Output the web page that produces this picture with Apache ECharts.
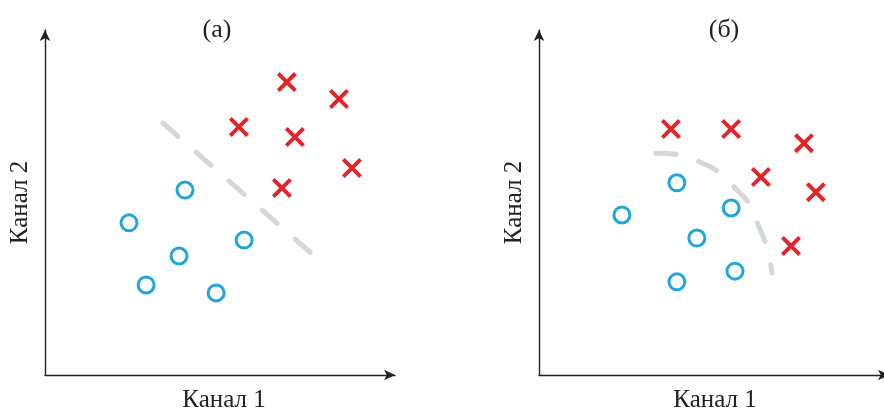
<!DOCTYPE html>
<html>
<head>
<meta charset="utf-8">
<script src="https://cdn.jsdelivr.net/npm/echarts@6/dist/echarts.min.js"></script>
<style>html,body{margin:0;padding:0;background:#fff}#c{width:884px;height:411px}</style>
</head>
<body>
<div id="c"></div>
<script>
// Panel titles and axis names
const panelTitles = ['(а)', '(б)'];
const xAxisName = 'Канал 1';
const yAxisName = 'Канал 2';

// Panel (а): class "×" and class "○", linear boundary
const crossesA = [[6.91, 8.49], [8.40, 8.00], [5.54, 7.19], [7.14, 6.90], [8.77, 6.00], [6.77, 5.42]];
const circlesA = [[4.00, 5.36], [2.40, 4.41], [5.69, 3.91], [3.83, 3.45], [2.89, 2.61], [4.89, 2.38]];
const boundaryA = [[3.37, 7.30], [7.66, 3.48]];

// Panel (б): class "×" and class "○", curved boundary
const crossesB = [[3.77, 7.13], [5.49, 7.13], [7.57, 6.72], [6.34, 5.74], [7.91, 5.30], [7.20, 3.74]];
const circlesB = [[3.94, 5.57], [2.37, 4.64], [5.49, 4.84], [4.51, 3.97], [5.60, 3.01], [3.94, 2.70]];
const boundaryB = [[3.34, 6.43], [4.03, 6.38], [4.60, 6.17], [5.17, 5.86], [5.60, 5.42], [6.03, 4.93], [6.26, 4.35], [6.49, 3.77], [6.66, 2.96]];

const RED = '#e5242a';
const BLUE = '#1fa6df';
const GRAY = '#d3d8d9';
const AXIS = '#222222';
const FONT = '"Liberation Serif", "DejaVu Serif", serif';
const CROSS = 'path://M14,0 L50,36 L86,0 L100,14 L64,50 L100,86 L86,100 L50,64 L14,100 L0,86 L36,50 L0,14 Z';

function xAx(i, pad) {
  return {
    gridIndex: i, type: 'value', min: 0, max: 10,
    name: xAxisName, nameLocation: 'middle', nameGap: 13,
    nameTextStyle: { fontFamily: FONT, fontSize: 25, color: '#222', verticalAlign: 'top', padding: [0, 0, 0, pad] },
    axisLine: { show: true, symbol: ['none', 'arrow'], symbolSize: [8, 11], lineStyle: { color: AXIS, width: 1.4 } },
    axisTick: { show: false }, axisLabel: { show: false }, splitLine: { show: false }
  };
}
function yAx(i) {
  return {
    gridIndex: i, type: 'value', min: 0, max: 10,
    name: yAxisName, nameLocation: 'middle', nameGap: 12, nameRotate: 90,
    nameTextStyle: { fontFamily: FONT, fontSize: 25, color: '#222' },
    axisLine: { show: true, symbol: ['none', 'arrow'], symbolSize: [8, 11], lineStyle: { color: AXIS, width: 1.4 } },
    axisTick: { show: false }, axisLabel: { show: false }, splitLine: { show: false }
  };
}
function lineSeries(i, data, smooth) {
  return {
    type: 'line', xAxisIndex: i, yAxisIndex: i, data: data, smooth: smooth,
    showSymbol: false, silent: true, z: 1,
    lineStyle: { color: GRAY, width: 5, type: [20, 24], cap: 'round', opacity: 1 }
  };
}
function crossSeries(i, data) {
  return {
    type: 'scatter', xAxisIndex: i, yAxisIndex: i, data: data, symbol: CROSS, symbolSize: 20, z: 3,
    itemStyle: { color: RED, opacity: 1 }
  };
}
function circleSeries(i, data) {
  return {
    type: 'scatter', xAxisIndex: i, yAxisIndex: i, data: data, symbol: 'circle', symbolSize: 16, z: 3,
    itemStyle: { color: '#fff', borderColor: BLUE, borderWidth: 3, opacity: 1 }
  };
}

const chart = echarts.init(document.getElementById('c'), null, { renderer: 'canvas' });
chart.setOption({
  animation: false,
  backgroundColor: '#fff',
  grid: [
    { left: 45, top: 30, width: 350, height: 345, containLabel: false, outerBoundsMode: 'none' },
    { left: 539, top: 30, width: 350, height: 345, containLabel: false, outerBoundsMode: 'none' }
  ],
  xAxis: [xAx(0, 8), xAx(1, 2)],
  yAxis: [yAx(0), yAx(1)],
  graphic: [
    { type: 'text', x: 217, y: 30, style: { text: panelTitles[0], font: '26px ' + FONT, fill: '#222', textAlign: 'center', textVerticalAlign: 'middle' } },
    { type: 'text', x: 724, y: 30, style: { text: panelTitles[1], font: '26px ' + FONT, fill: '#222', textAlign: 'center', textVerticalAlign: 'middle' } }
  ],
  series: [
    lineSeries(0, boundaryA, false),
    crossSeries(0, crossesA),
    circleSeries(0, circlesA),
    lineSeries(1, boundaryB, 0.4),
    crossSeries(1, crossesB),
    circleSeries(1, circlesB)
  ]
});
</script>
</body>
</html>
